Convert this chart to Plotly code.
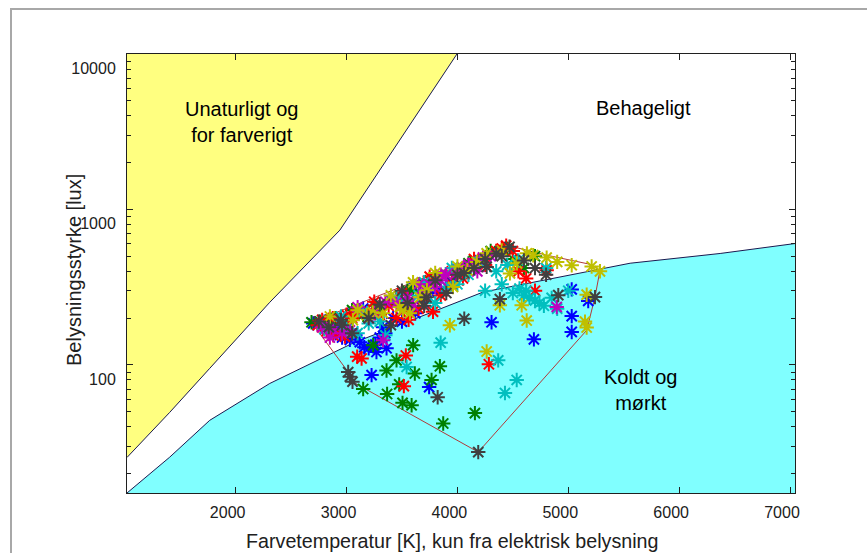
import numpy as np
import plotly.graph_objects as go

# ---------------- data ----------------
# boundary between "Unaturligt" (yellow) and "Behageligt"
upper_kelvin = [1020, 1405, 1766, 2308, 2940, 3481, 3996]
upper_lux = [25.4, 49.5, 95, 253, 736, 2793, 10000]

# boundary between "Behageligt" and "Koldt og mørkt" (cyan)
lower_kelvin = [1020, 1405, 1766, 2308, 3057, 4231, 5558, 6370, 7047]
lower_lux = [15, 25.5, 44, 76, 138, 294, 451, 521, 604]

# convex hull of the measurements
hull_kelvin = [2684, 3015, 3054, 4188, 5166, 5241, 5286, 5196, 4805, 4444, 2684]
hull_lux = [188, 90, 78, 27.5, 167, 273, 406, 444, 508, 589, 188]

blue_k = [2700, 2780, 2830, 2870, 2900, 2950, 2990, 2960, 3030, 3080, 3120, 3160, 3200, 3260,
          3300, 3350, 3330, 3420, 3500, 3560, 3620, 3700, 3760, 3850, 3950, 4080, 4200,
          3226, 3745, 4308, 4690, 5031, 5031, 5180, 5031, 3270, 3361,
          2800, 2900, 3050, 3150, 3400, 3600, 4000, 4350]
blue_l = [185, 178, 190, 172, 160, 175, 165, 150, 145, 155, 140, 130, 128, 135,
          150, 160, 175, 200, 190, 230, 215, 250, 290, 300, 340, 420, 470,
          86, 72, 188, 146, 206, 163, 258, 306, 121, 128,
          190, 200, 215, 230, 260, 320, 410, 520]

green_k = [2684, 3361, 3451, 3616, 3842, 3767, 3475, 3366, 3150, 3505, 3587, 3872, 4158, 3601, 3240,
           2760, 2900, 3000, 3300, 3450, 3600, 3800, 3900, 4100, 4300, 4500, 4600, 3700, 3150,
           2850, 3050, 3250, 3550, 3750, 4150, 4450, 4700]
green_l = [188, 92, 107, 88, 98, 80, 75, 65, 70, 57, 55, 42, 49, 134, 134,
           190, 200, 185, 230, 260, 300, 360, 380, 450, 540, 480, 420, 330, 210,
           195, 225, 240, 300, 350, 470, 560, 500]

red_k = [3517, 3535, 3136, 3096, 4284, 4805, 2740, 2820, 2880, 2950, 3050, 3100, 3200, 3300, 3380,
         3450, 3520, 3560, 3650, 3700, 3780, 3850, 3950, 4050, 4250, 4400, 4500, 4550, 4620, 4700,
         2985, 2876, 4440, 2780, 3000, 3250, 3500, 3750, 3950, 4150, 4350]
red_l = [73, 115, 110, 113, 101, 406, 180, 165, 155, 160, 200, 215, 220, 210, 240,
         200, 230, 195, 230, 270, 220, 280, 330, 360, 440, 560, 540, 400, 360, 300,
         152, 200, 585, 195, 210, 255, 290, 370, 400, 480, 540]

cyan_k = [3849, 3542, 4368, 4429, 4535, 2800, 3000, 3200, 3300, 3350, 3500, 3650, 3800, 4000, 4100,
          4250, 4400, 4500, 4600, 4650, 4700, 4740, 4780, 4560, 4620, 4850, 4900, 5000, 4450, 4350,
          3900, 3100, 2950, 3150, 3450, 3700, 3950, 4200, 4550, 4800]
cyan_l = [139, 97, 107, 66, 80, 170, 170, 185, 190, 155, 260, 280, 250, 330, 380,
          300, 330, 290, 280, 270, 260, 250, 240, 310, 300, 270, 230, 300, 440, 400,
          320, 160, 205, 220, 270, 340, 420, 460, 470, 420]

magenta_k = [2780, 2850, 2880, 2960, 3030, 3330, 4896, 3993, 4140, 4230, 3800, 3850,
             3700, 3750, 3900, 4050, 4180, 3550, 3450, 3250, 3600,
             3100, 3350, 3650, 3850, 4100, 4300, 3200]
magenta_l = [175, 150, 170, 160, 167, 144, 236, 388, 450, 490, 317, 350,
             290, 330, 380, 420, 400, 270, 250, 215, 240,
             235, 255, 330, 380, 440, 500, 200]

yellow_k = [4264, 4625, 4580, 5151, 5166, 5166, 5211, 5286, 5031, 4805, 4684, 4383, 3932, 3572,
            3508, 3481, 3330, 3662, 3725, 3960, 4090, 4175, 4264, 4537, 4627, 4474, 3057, 3183, 3237,
            2850, 3100, 3400, 3600, 3800, 4000, 4400, 4900]
yellow_l = [122, 193, 242, 190, 174, 283, 430, 400, 438, 490, 508, 242, 180, 215,
            225, 235, 215, 272, 302, 317, 406, 460, 522, 450, 522, 388, 194, 209, 218,
            205, 225, 280, 340, 390, 430, 545, 460]

gray_k = [3030, 3054, 3015, 3822, 4188, 4383, 4062, 4910, 5241, 2750, 2840, 2960, 3050, 3200, 3400,
          3550, 3700, 3900, 4060, 4150, 4350, 4470, 4700, 4800, 3722, 4264,
          2950, 3300, 3500, 3800, 4000, 4250, 4400, 4600]
gray_l = [84, 78, 90, 62, 27.5, 265, 198, 281, 273, 190, 175, 180, 160, 200, 180,
          250, 240, 290, 390, 420, 520, 575, 420, 380, 272, 427,
          195, 245, 300, 350, 380, 480, 500, 470]

series = [
    ("b", blue_k, blue_l, "#0000ff"),
    ("g", green_k, green_l, "#008000"),
    ("r", red_k, red_l, "#ff0000"),
    ("c", cyan_k, cyan_l, "#00bfbf"),
    ("m", magenta_k, magenta_l, "#bf00bf"),
    ("y", yellow_k, yellow_l, "#bfbf00"),
    ("k", gray_k, gray_l, "#404040"),
]

x_ticks = [2000, 3000, 4000, 5000, 6000, 7000]
y_ticks = [100, 1000, 10000]
y_minor = [20, 30, 40, 50, 60, 70, 80, 90, 200, 300, 400, 500, 600, 700, 800, 900,
           2000, 3000, 4000, 5000, 6000, 7000, 8000, 9000]

X_MIN, X_MAX = 1020, 7045
Y_MIN, Y_MAX = 15, 10000

fig = go.Figure()

fig.add_trace(go.Scatter(
    x=[500] + upper_kelvin + [upper_kelvin[-1], 500],
    y=[upper_lux[0]] + upper_lux + [20000, 20000],
    fill="toself", fillcolor="#ffff80", mode="none", hoverinfo="skip", showlegend=False))
fig.add_trace(go.Scatter(
    x=[lower_kelvin[0]] + lower_kelvin + [8000, 8000, lower_kelvin[0]],
    y=[5] + lower_lux + [lower_lux[-1], 5, 5],
    fill="toself", fillcolor="#80ffff", mode="none", hoverinfo="skip", showlegend=False))

for xs, ys in ((upper_kelvin, upper_lux), (lower_kelvin, lower_lux)):
    fig.add_trace(go.Scatter(x=xs, y=ys, mode="lines", line=dict(color="#1a1a50", width=1),
                             hoverinfo="skip", showlegend=False))

fig.add_trace(go.Scatter(x=hull_kelvin, y=hull_lux, mode="lines",
                         line=dict(color="#b03a3a", width=1), showlegend=False))

for name, xs, ys, col in series:
    fig.add_trace(go.Scatter(
        x=xs, y=ys, mode="markers", name=name, showlegend=False,
        marker=dict(symbol="asterisk-open", size=12, color=col, opacity=1,
                    line=dict(color=col, width=2))))

afont = dict(family="Liberation Sans, Arial, sans-serif", size=20, color="#000000")
fig.add_annotation(x=2052, y=np.log10(3675), text="Unaturligt og<br>for farverigt",
                   showarrow=False, font=afont)
fig.add_annotation(x=5674, y=np.log10(4490), text="Behageligt", showarrow=False, font=afont)
fig.add_annotation(x=5647, y=np.log10(68.6), text="Koldt og<br>mørkt", showarrow=False, font=afont)

tickfont = dict(family="Liberation Sans, Arial, sans-serif", size=16, color="#202020")

W, H = 867, 553
L, R, T, B = 127, 72, 54, 60
pw, ph = W - L - R, H - T - B
def px(xp):
    return (xp - L) / pw
def py(yp):
    return (H - B - yp) / ph

fig.update_xaxes(
    range=[X_MIN, X_MAX], tickvals=x_ticks, ticktext=[str(v) for v in x_ticks],
    ticks="inside", ticklen=6, tickcolor="#202020", showline=True, linecolor="#202020",
    linewidth=1, mirror="ticks", showgrid=False, zeroline=False, tickfont=tickfont,
    ticklabelshift=-8, ticklabelstandoff=5)
fig.update_yaxes(
    type="log", range=[np.log10(Y_MIN), np.log10(Y_MAX)], tickvals=y_ticks,
    ticktext=[str(v) for v in y_ticks],
    ticks="inside", ticklen=6, tickcolor="#202020", showline=True, linecolor="#202020",
    linewidth=1, mirror="ticks", showgrid=False, zeroline=False, tickfont=tickfont,
    ticklabelshift=14, ticklabelstandoff=7,
    minor=dict(tickvals=y_minor, ticks="inside", ticklen=4, tickcolor="#202020", showgrid=False))

fig.add_annotation(xref="paper", yref="paper", x=px(74), y=py(270), xanchor="center",
                   yanchor="middle", text="Belysningsstyrke [lux]", textangle=-90,
                   showarrow=False,
                   font=dict(family="Liberation Sans, Arial, sans-serif", size=20, color="#202020"))
fig.add_annotation(xref="paper", yref="paper", x=px(452), y=py(541), xanchor="center",
                   yanchor="middle", text="Farvetemperatur [K], kun fra elektrisk belysning",
                   showarrow=False,
                   font=dict(family="Liberation Sans, Arial, sans-serif", size=19.7, color="#202020"))

fig.add_shape(type="rect", xref="paper", yref="paper", x0=px(11), x1=px(880), y0=py(566), y1=py(9),
              line=dict(color="#a8a8a8", width=2), layer="below")

fig.update_layout(
    width=W, height=H, margin=dict(l=L, r=R, t=T, b=B),
    paper_bgcolor="white", plot_bgcolor="white", showlegend=False)

fig.write_html("out.html")
